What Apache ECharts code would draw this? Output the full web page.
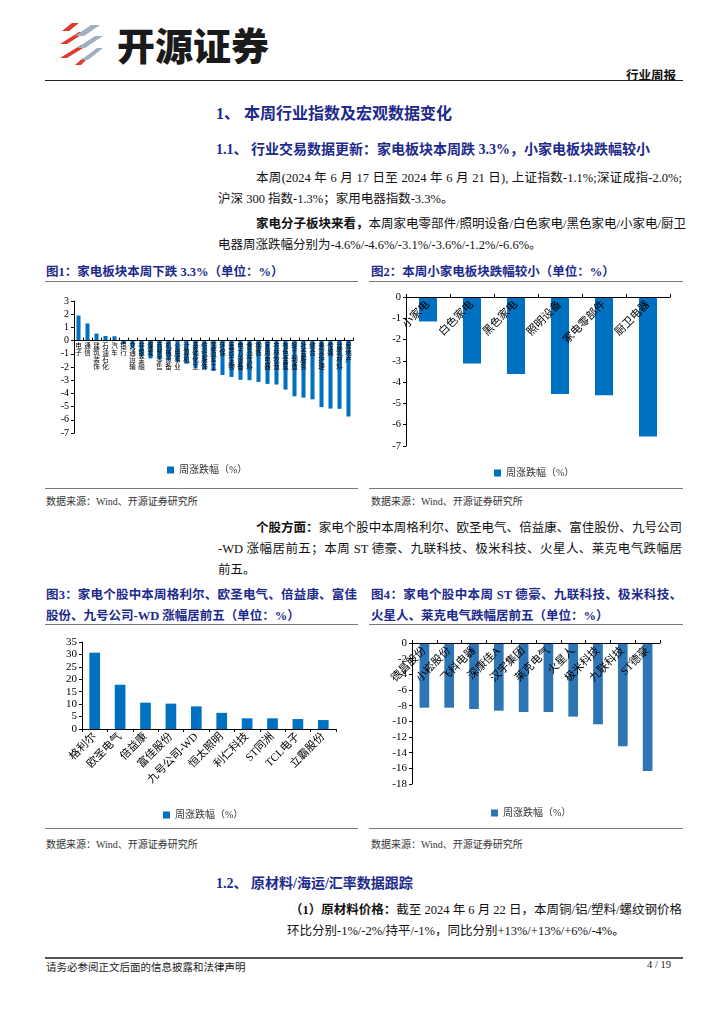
<!DOCTYPE html>
<html><head><meta charset="utf-8">
<script src="https://cdn.jsdelivr.net/npm/echarts@6/dist/echarts.min.js"></script>
<style>
html,body{margin:0;padding:0;background:#fff;}
body{width:724px;height:1024px;position:relative;overflow:hidden;font-family:"Liberation Serif","Noto Sans CJK SC",serif;color:#111;}
.a{position:absolute;white-space:nowrap;}
.navy{color:#1D2A8C;font-weight:bold;}
.line{position:absolute;height:0;}
.j{text-align:justify;text-align-last:justify;}
.src{font-size:10px;color:#333;}
.chart{position:absolute;}
</style></head><body>

<svg class="a" style="left:58px;top:22px" width="46" height="44" viewBox="0 0 46 44">
  <polygon points="14,1 21,1 11,9 4,9" fill="#e03a2f"/>
  <polygon points="21,10 28,10 9,22 2,22" fill="#e03a2f"/>
  <polygon points="23,23 30,23 9,36 2,36" fill="#e03a2f"/>
  <polygon points="25,36 30,36 23,43 17,43" fill="#e03a2f"/>
  <polygon points="33,3 42,3 26,14 17,14" fill="#9fb0bf"/>
  <polygon points="37,14 45,14 27,26 19,26" fill="#9fb0bf"/>
  <polygon points="39,26 45,26 30,38 23,38" fill="#9fb0bf"/>
</svg>
<div class="a" style="left:117px;top:21px;font-family:'Noto Sans CJK SC';font-weight:900;font-size:38px;line-height:46px;color:#1a1a1a;">开源证券</div>

<div class="a" style="left:626px;top:65px;font-size:12.5px;font-weight:bold;">行业周报</div>
<div class="line" style="left:45px;top:80px;width:638px;border-top:1.5px solid #222"></div>

<div class="a navy" style="left:216px;top:100px;font-size:16px;">1、 本周行业指数及宏观数据变化</div>
<div class="a navy" style="left:216px;top:138px;font-size:14px;">1.1、 行业交易数据更新：家电板块本周跌 3.3%，小家电板块跌幅较小</div>

<div class="a j" style="left:256px;top:167px;width:426px;font-size:12.5px;">本周(2024 年 6 月 17 日至 2024 年 6 月 21 日), 上证指数-1.1%;深证成指-2.0%;</div>
<div class="a" style="left:218px;top:188px;font-size:12.5px;">沪深 300 指数-1.3%；家用电器指数-3.3%。</div>
<div class="a j" style="left:256px;top:213px;width:426px;font-size:12.5px;"><b>家电分子板块来看，</b>本周家电零部件/照明设备/白色家电/黑色家电/小家电/厨卫</div>
<div class="a" style="left:218px;top:234px;font-size:12.5px;">电器周涨跌幅分别为-4.6%/-4.6%/-3.1%/-3.6%/-1.2%/-6.6%。</div>

<div class="a navy" style="left:46px;top:261px;font-size:12.5px;">图1：家电板块本周下跌 3.3%（单位：%）</div>
<div class="a navy" style="left:371px;top:261px;font-size:12.5px;">图2：本周小家电板块跌幅较小（单位：%）</div>
<div class="line" style="left:45px;top:281px;width:313px;border-top:1px solid #777"></div>
<div class="line" style="left:369px;top:281px;width:314px;border-top:1px solid #777"></div>

<div id="c1" class="chart" style="left:40px;top:290px;width:320px;height:190px"></div>
<div id="c2" class="chart" style="left:365px;top:285px;width:320px;height:195px"></div>

<div class="line" style="left:45px;top:488px;width:313px;border-top:1px solid #777"></div>
<div class="line" style="left:369px;top:488px;width:314px;border-top:1px solid #777"></div>
<div class="a src" style="left:46px;top:493px;">数据来源：Wind、开源证券研究所</div>
<div class="a src" style="left:371px;top:493px;">数据来源：Wind、开源证券研究所</div>

<div class="a j" style="left:256px;top:517px;width:426px;font-size:12.5px;"><b>个股方面：</b>家电个股中本周格利尔、欧圣电气、倍益康、富佳股份、九号公司</div>
<div class="a j" style="left:218px;top:538px;width:464px;font-size:12.5px;">-WD 涨幅居前五；本周 ST 德豪、九联科技、极米科技、火星人、莱克电气跌幅居</div>
<div class="a" style="left:218px;top:559px;font-size:12.5px;">前五。</div>

<div class="a navy j" style="left:46px;top:584px;width:311px;font-size:12.5px;">图3：家电个股中本周格利尔、欧圣电气、倍益康、富佳</div>
<div class="a navy" style="left:46px;top:605px;font-size:12.5px;">股份、九号公司-WD 涨幅居前五（单位：%）</div>
<div class="a navy j" style="left:371px;top:584px;width:311px;font-size:12.5px;">图4：家电个股中本周 ST 德豪、九联科技、极米科技、</div>
<div class="a navy" style="left:371px;top:605px;font-size:12.5px;">火星人、莱克电气跌幅居前五（单位：%）</div>
<div class="line" style="left:45px;top:624px;width:313px;border-top:1px solid #777"></div>
<div class="line" style="left:369px;top:624px;width:314px;border-top:1px solid #777"></div>

<div id="c3" class="chart" style="left:40px;top:630px;width:320px;height:190px"></div>
<div id="c4" class="chart" style="left:365px;top:630px;width:320px;height:190px"></div>

<div class="line" style="left:45px;top:828px;width:313px;border-top:1px solid #777"></div>
<div class="line" style="left:369px;top:828px;width:314px;border-top:1px solid #777"></div>
<div class="a src" style="left:46px;top:836px;">数据来源：Wind、开源证券研究所</div>
<div class="a src" style="left:371px;top:836px;">数据来源：Wind、开源证券研究所</div>

<div class="a navy" style="left:216px;top:872px;font-size:14px;">1.2、 原材料/海运/汇率数据跟踪</div>
<div class="a j" style="left:290px;top:899px;width:392px;font-size:12.5px;"><b>（1）原材料价格：</b>截至 2024 年 6 月 22 日，本周铜/铝/塑料/螺纹钢价格</div>
<div class="a" style="left:287px;top:920px;font-size:12.5px;">环比分别-1%/-2%/持平/-1%，同比分别+13%/+13%/+6%/-4%。</div>

<div class="line" style="left:45px;top:957px;width:638px;border-top:2px solid #555"></div>
<div class="a" style="left:46px;top:959px;font-size:10.5px;color:#222">请务必参阅正文后面的信息披露和法律声明</div>
<div class="a" style="left:647px;top:959px;font-size:10.5px;color:#222">4 / 19</div>

<script>
// ---- data ----
const c1Cats = ['电子','通信','建筑装饰','石油石化','汽车','银行','交通运输','非银金融','煤炭','商贸零售','机械设备','公用事业','计算机','基础化工','纺织服饰','国防军工','环保','医药生物','电力设备','食品饮料','钢铁','家用电器','农林牧渔','有色金属','轻工制造','社会服务','综合','美容护理','传媒','建筑材料','房地产'];
const c1Vals = [1.9,1.3,0.53,0.35,0.33,-0.25,-0.55,-1.2,-1.35,-1.4,-1.5,-1.6,-1.75,-2.1,-2.2,-2.3,-2.6,-2.75,-2.97,-3.0,-3.13,-3.28,-3.33,-3.71,-4.22,-4.32,-4.45,-5.04,-5.15,-5.17,-5.75];
const c2Cats = ['小家电','白色家电','黑色家电','照明设备','家电零部件','厨卫电器'];
const c2Vals = [-1.15,-3.12,-3.62,-4.56,-4.62,-6.55];
const c3Cats = ['格利尔','欧圣电气','倍益康','富佳股份','九号公司-WD','恒太照明','利仁科技','ST同洲','TCL电子','立霸股份'];
const c3Vals = [30.7,17.8,10.6,10.2,9.1,6.5,4.3,4.3,4.0,3.6];
const c4Cats = ['德昌股份','小崧股份','飞科电器','深康佳A','汉宇集团','莱克电气','火星人','极米科技','九联科技','ST德豪'];
const c4Vals = [-8.26,-8.26,-8.43,-8.64,-8.81,-8.81,-9.4,-10.38,-13.19,-16.34];
const seriesName = '周涨跌幅（%）';

const FONT = '"Liberation Serif","Noto Sans CJK SC",serif';

function make(id, cats, vals, o){
  const ch = echarts.init(document.getElementById(id), null, {renderer:'canvas'});
  // move category axis (line, ticks, labels) to the value-axis zero position
  const zeroOffset = -o.grid.height * (0 - o.min) / (o.max - o.min);
  ch.setOption({
    animation:false,
    textStyle:{fontFamily:FONT},
    grid:o.grid,
    legend:{data:[seriesName], left:o.legendLeft, top:o.legendTop, icon:'rect', itemWidth:7, itemHeight:7, itemGap:4,
      textStyle:{fontSize:10, color:'#333', fontFamily:FONT}},
    xAxis:{type:'category', data:cats, position:'bottom', offset:zeroOffset, z:10,
      axisLine:{onZero:false, lineStyle:{color:'#000', width:1}},
      axisTick:{show:true, inside:o.tickInside, length:3, lineStyle:{color:'#000'}},
      axisLabel:Object.assign({interval:0, color:'#000', fontFamily:FONT}, o.xLabel)},
    yAxis:{type:'value', min:o.min, max:o.max, interval:o.interval, z:10,
      axisLine:{show:true, lineStyle:{color:'#000', width:1}},
      axisTick:{show:true, length:3, lineStyle:{color:'#000'}},
      splitLine:{show:false},
      axisLabel:{color:'#000', fontSize:o.yFont, margin:5, fontFamily:FONT}},
    series:[{name:seriesName, type:'bar', data:vals, barWidth:o.barWidth, z:1,
      itemStyle:{color:o.color}}]
  });
}

make('c1', c1Cats, c1Vals, {
  grid:{left:34, top:11, width:279, height:132},
  legendLeft:122, legendTop:170, tickInside:true,
  xLabel:{fontSize:6.5, lineHeight:7, margin:2, formatter:v=>v.split('').join('\n')},
  min:-7, max:3, interval:1, yFont:10, barWidth:'45%', color:'#0070C0'
});
make('c2', c2Cats, c2Vals, {
  grid:{left:41, top:12, width:264, height:149},
  legendLeft:124, legendTop:178, tickInside:true,
  xLabel:{fontSize:11, rotate:45, margin:6},
  min:-7, max:0, interval:1, yFont:10.5, barWidth:'41%', color:'#0070C0'
});
make('c3', c3Cats, c3Vals, {
  grid:{left:42, top:12, width:254, height:87},
  legendLeft:118, legendTop:175, tickInside:false,
  xLabel:{fontSize:11, rotate:45, margin:6},
  min:0, max:35, interval:5, yFont:11, barWidth:'42%', color:'#0070C0'
});
make('c4', c4Cats, c4Vals, {
  grid:{left:47, top:13, width:248, height:141},
  legendLeft:121, legendTop:173, tickInside:true,
  xLabel:{fontSize:11, rotate:45, margin:6},
  min:-18, max:0, interval:2, yFont:11, barWidth:'39%', color:'#2E75B6'
});
</script>
</body></html>
